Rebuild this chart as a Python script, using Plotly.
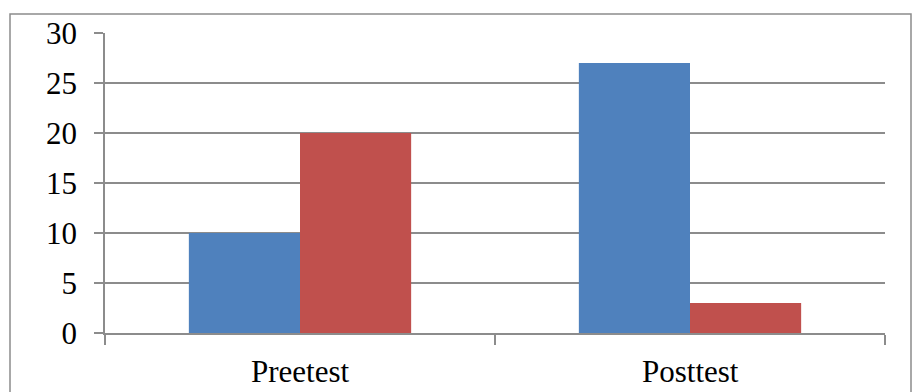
import plotly.graph_objects as go

# Data
categories = ["Preetest", "Posttest"]
series_a = [10, 27]
series_b = [20, 3]
y_ticks = [0, 5, 10, 15, 20, 25, 30]

BLUE = "#4F81BD"
RED = "#C0504D"
GRID = "#8C8C8C"
FONT = dict(family="Liberation Serif, Times New Roman, serif", size=31, color="#000000")

W, H = 912, 392
L, R, T, B = 105, 27, 33, 59
pw, ph = W - L - R, H - T - B

def px_x(x):
    return (x - L) / pw

def px_y(y):
    return (H - B - y) / ph

fig = go.Figure()
fig.add_trace(go.Bar(x=categories, y=series_a, marker=dict(color=BLUE, line=dict(width=0)),
                     showlegend=False))
fig.add_trace(go.Bar(x=categories, y=series_b, marker=dict(color=RED, line=dict(width=0)),
                     showlegend=False))

fig.update_layout(
    width=W, height=H,
    margin=dict(l=L, r=R, t=T, b=B, pad=0),
    paper_bgcolor="white", plot_bgcolor="white",
    barmode="group", bargap=0.43, bargroupgap=0,
    font=FONT,
    xaxis=dict(
        showgrid=False, showline=True, linecolor=GRID, linewidth=1.5,
        ticks="outside", ticklen=10, tickcolor=GRID, tickwidth=1.5,
        tickmode="array", tickvals=[-0.5, 0.5, 1.5], ticktext=["", "", ""],
        range=[-0.5, 1.5], fixedrange=True,
    ),
    yaxis=dict(
        range=[0, 30], tickvals=y_ticks, showgrid=True, gridcolor=GRID, gridwidth=1.5,
        showline=True, linecolor=GRID, linewidth=1.5,
        ticks="outside", ticklen=9, tickcolor=GRID, tickwidth=1.5,
        ticklabelstandoff=11, zeroline=False,
    ),
    shapes=[
        dict(type="rect", xref="paper", yref="paper",
             x0=px_x(10), x1=px_x(911), y0=px_y(400), y1=px_y(14),
             line=dict(color=GRID, width=1.5), fillcolor="rgba(0,0,0,0)", layer="below"),
    ],
)

# Category labels centred under each group
for i, c in enumerate(categories):
    fig.add_annotation(x=i, y=px_y(372), xref="x", yref="paper", text=c,
                       showarrow=False, font=FONT, yanchor="middle", xanchor="center")

fig.write_html("out.html")
